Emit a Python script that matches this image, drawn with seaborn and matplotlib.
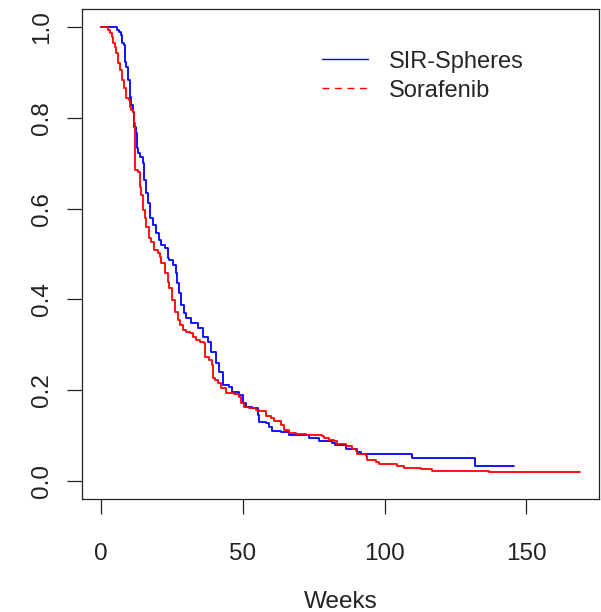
import pandas as pd
import seaborn as sns
import matplotlib.pyplot as plt
from matplotlib.lines import Line2D

# Kaplan-Meier steps (weeks, survival after the step)
sir_weeks = [0, 5.6, 6.3, 7.0, 7.3, 8.2, 8.4, 9.0, 9.6, 10.2, 10.5, 11.3, 11.7, 12.5, 12.9,
             13.1, 13.9, 14.7, 15.1, 15.8, 16.6, 17.2, 18.3, 19.6, 20.5, 21.3, 22.5, 23.6,
             24.2, 25.4, 26.4, 26.8, 27.5, 28.4, 29.3, 30.1, 31.9, 34.2, 35.9, 37.7, 38.9,
             40.7, 41.8, 43.0, 45.3, 46.4, 48.8, 50.0, 51.2, 53.4, 55.3, 55.9, 58.2, 59.4,
             60.4, 63.5, 66.4, 73.4, 77.0, 81.5, 82.6, 86.3, 90.3, 91.6, 109.7, 132.0, 145.5]
sir_surv = [1.0, 0.993, 0.990, 0.982, 0.965, 0.960, 0.924, 0.913, 0.883, 0.846, 0.828, 0.813,
            0.780, 0.767, 0.733, 0.722, 0.714, 0.700, 0.663, 0.634, 0.612, 0.579, 0.564, 0.546,
            0.531, 0.520, 0.513, 0.491, 0.487, 0.476, 0.458, 0.436, 0.414, 0.388, 0.370, 0.359,
            0.348, 0.337, 0.317, 0.306, 0.284, 0.260, 0.240, 0.211, 0.207, 0.196, 0.189, 0.172,
            0.163, 0.161, 0.145, 0.130, 0.128, 0.119, 0.110, 0.108, 0.101, 0.095, 0.088, 0.084,
            0.079, 0.070, 0.064, 0.059, 0.050, 0.032, 0.032]

sor_weeks = [0, 2.4, 3.2, 3.9, 4.2, 4.9, 5.5, 6.0, 6.7, 7.3, 7.5, 8.1, 8.8, 9.0, 9.8, 10.3,
             10.8, 11.2, 11.6, 11.9, 13.1, 13.7, 14.3, 14.9, 15.7, 16.1, 17.0, 17.8, 18.7,
             20.1, 20.7, 21.3, 22.7, 23.6, 24.2, 25.2, 26.0, 27.2, 28.0, 28.9, 30.1, 31.3,
             32.4, 33.6, 34.8, 36.5, 36.9, 38.3, 39.2, 39.7, 40.1, 41.2, 42.4, 44.2, 47.1,
             48.8, 49.4, 50.6, 52.4, 54.7, 55.6, 58.2, 60.0, 61.1, 63.5, 64.7, 66.4, 68.8,
             72.3, 78.1, 78.7, 80.5, 82.2, 83.4, 86.3, 88.7, 89.8, 90.4, 93.4, 93.9, 96.9,
             98.0, 104.5, 106.8, 112.7, 116.8, 136.7, 168.9]
sor_surv = [1.0, 0.993, 0.987, 0.978, 0.965, 0.956, 0.943, 0.921, 0.905, 0.894, 0.883, 0.866,
            0.861, 0.844, 0.839, 0.824, 0.817, 0.813, 0.789, 0.685, 0.681, 0.648, 0.630, 0.597,
            0.579, 0.559, 0.535, 0.526, 0.509, 0.502, 0.493, 0.480, 0.458, 0.438, 0.425, 0.399,
            0.372, 0.355, 0.344, 0.333, 0.328, 0.326, 0.317, 0.311, 0.306, 0.304, 0.273, 0.267,
            0.256, 0.227, 0.222, 0.216, 0.205, 0.194, 0.192, 0.185, 0.172, 0.163, 0.161, 0.156,
            0.153, 0.142, 0.139, 0.131, 0.123, 0.112, 0.106, 0.104, 0.101, 0.098, 0.095, 0.090,
            0.087, 0.081, 0.076, 0.070, 0.065, 0.059, 0.054, 0.046, 0.041, 0.037, 0.033, 0.029,
            0.026, 0.022, 0.019, 0.019]

groups = ["SIR-Spheres", "Sorafenib"]
colors = {"SIR-Spheres": "#0000FF", "Sorafenib": "#FF0000"}

df = pd.concat([
    pd.DataFrame({"weeks": sir_weeks, "surv": sir_surv, "arm": groups[0]}),
    pd.DataFrame({"weeks": sor_weeks, "surv": sor_surv, "arm": groups[1]}),
])

sns.set_style("ticks")
plt.rcParams["font.family"] = ["Liberation Sans", "DejaVu Sans"]

fig = plt.figure(figsize=(6.01, 6.12), dpi=100)
ax = fig.add_axes([0.1358, 0.1846, 0.8617, 0.8007])

sns.lineplot(data=df, x="weeks", y="surv", hue="arm", palette=colors,
             estimator=None, sort=False, drawstyle="steps-post",
             linewidth=1.3, legend=False, ax=ax)

ax.set_xlim(-6.76, 175.76)
ax.set_ylim(-0.04, 1.04)
ax.set_xticks([0, 50, 100, 150])
ax.set_yticks([0, 0.2, 0.4, 0.6, 0.8, 1.0])
ax.set_yticklabels(["0.0", "0.2", "0.4", "0.6", "0.8", "1.0"], rotation=90, va="center")
ax.set_xlabel("Weeks", fontsize=17.5, labelpad=19, color="#222222")
ax.set_ylabel("")
ax.tick_params(axis="x", length=11, width=0.9, pad=20.5, labelsize=17.5, colors="#222222")
ax.tick_params(axis="y", length=11, width=0.9, pad=9.5, labelsize=17.5, colors="#222222")
for sp in ax.spines.values():
    sp.set_color("#222222")
    sp.set_linewidth(0.9)

handles = [Line2D([], [], color="#0000FF", lw=1.0),
           Line2D([], [], color="#FF0000", lw=1.0, dashes=(5, 4))]
ax.legend(handles, groups, loc="upper left", bbox_to_anchor=(0.464, 0.915),
          frameon=False, fontsize=17, handlelength=1.95, handletextpad=0.9,
          labelspacing=0.3, borderpad=0, borderaxespad=0)

fig.savefig("out.png", dpi=100, facecolor="white")
